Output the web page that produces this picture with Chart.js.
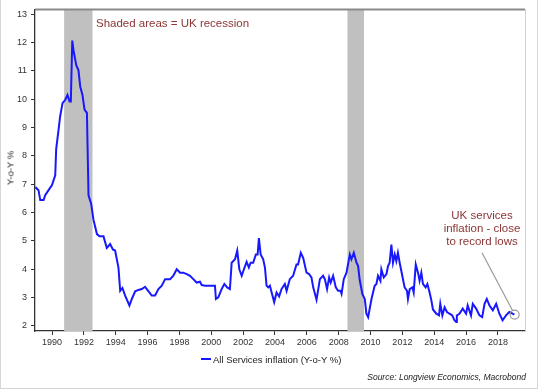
<!DOCTYPE html>
<html>
<head>
<meta charset="utf-8">
<script src="https://cdn.jsdelivr.net/npm/chart.js@4.4.0/dist/chart.umd.min.js"></script>
<style>
  body { margin: 0; background: #fff; font-family: "Liberation Sans", Arial, sans-serif; }
  #wrap { position: relative; width: 540px; height: 391px; overflow: hidden; }
  #frame { position: absolute; left: 0; top: -2px; width: 536px; height: 389px; border: 1px solid #d6d6d6; }
  #myChart { position: absolute; left: 0; top: 0; }
  .note { position: absolute; color: #8c3535; font-size: 11.5px; white-space: nowrap; }
  #shaded { left: 96px; top: 17px; }
  #callout { left: 432px; top: 209px; width: 100px; text-align: center; line-height: 13px; }
  #ytitle { position: absolute; left: 10px; top: 168px; font-size: 9.5px; color: #222; transform: translate(-50%, -50%) rotate(-90deg); white-space: nowrap; }
  #legend { position: absolute; left: 201px; top: 354px; font-size: 9.5px; color: #222; white-space: nowrap; }
  #legend span.swatch { display: inline-block; width: 10px; height: 2px; background: #1515ff; vertical-align: middle; margin-right: 2px; position: relative; top: -1px; }
  #source { position: absolute; right: 14px; top: 372px; font-size: 8.5px; font-style: italic; color: #222; white-space: nowrap; }
</style>
</head>
<body>
<div id="wrap">
  <div id="frame"></div>
  <canvas id="myChart" width="540" height="391"></canvas>
  <div class="note" id="shaded">Shaded areas = UK recession</div>
  <div class="note" id="callout">UK services<br>inflation - close<br>to record lows</div>
  <div id="ytitle">Y-o-Y %</div>
  <div id="legend"><span class="swatch"></span>All Services inflation (Y-o-Y %)</div>
  <div id="source">Source: Longview Economics, Macrobond</div>
</div>
<script>
// fechas en años decimales y valores (Y-o-Y %)
const fechas = [
  1988.95, 1989.15, 1989.26, 1989.47, 1989.57, 1989.78, 1989.99, 1990.20, 1990.26, 1990.41,
  1990.51, 1990.66, 1990.83, 1990.97, 1991.10, 1991.18, 1991.27, 1991.35, 1991.52, 1991.66,
  1991.77, 1991.91, 1992.04, 1992.19, 1992.29, 1992.46, 1992.60, 1992.82, 1992.98, 1993.23,
  1993.44, 1993.65, 1993.82, 1993.96, 1994.17, 1994.28, 1994.42, 1994.59, 1994.86, 1995.01,
  1995.22, 1995.42, 1995.64, 1995.84, 1996.11, 1996.26, 1996.47, 1996.68, 1996.89, 1997.10,
  1997.41, 1997.62, 1997.83, 1998.04, 1998.24, 1998.46, 1998.66, 1998.87, 1999.08, 1999.29,
  1999.40, 1999.61, 2000.23, 2000.29, 2000.44, 2000.65, 2000.82, 2001.00, 2001.17, 2001.28,
  2001.49, 2001.63, 2001.76, 2001.91, 2002.05, 2002.22, 2002.36, 2002.47, 2002.63, 2002.80,
  2002.91, 2002.99, 2003.10, 2003.26, 2003.37, 2003.47, 2003.57, 2003.68, 2003.79, 2003.95,
  2004.10, 2004.26, 2004.41, 2004.62, 2004.73, 2004.93, 2005.14, 2005.35, 2005.45, 2005.62,
  2005.77, 2005.98, 2006.14, 2006.29, 2006.40, 2006.61, 2006.82, 2007.02, 2007.13, 2007.27,
  2007.40, 2007.50, 2007.65, 2007.82, 2007.96, 2008.11, 2008.18, 2008.32, 2008.49, 2008.70,
  2008.80, 2008.95, 2009.12, 2009.22, 2009.32, 2009.49, 2009.64, 2009.74, 2009.85, 2010.06,
  2010.26, 2010.37, 2010.47, 2010.62, 2010.68, 2010.83, 2011.00, 2011.10, 2011.20, 2011.31,
  2011.41, 2011.52, 2011.62, 2011.72, 2011.83, 2012.00, 2012.14, 2012.29, 2012.35, 2012.46,
  2012.63, 2012.71, 2012.84, 2012.98, 2013.08, 2013.19, 2013.29, 2013.46, 2013.57, 2013.71,
  2013.82, 2013.92, 2014.13, 2014.30, 2014.38, 2014.51, 2014.65, 2014.80, 2014.96, 2015.13,
  2015.27, 2015.38, 2015.42, 2015.58, 2015.79, 2016.00, 2016.10, 2016.31, 2016.42, 2016.63,
  2016.84, 2017.01, 2017.16, 2017.30, 2017.47, 2017.68, 2017.89, 2018.09, 2018.29, 2018.51,
  2018.71, 2018.92, 2019.03
];
const inflacion = [
  6.90, 6.79, 6.44, 6.44, 6.61, 6.79, 6.96, 7.31, 8.24, 8.93,
  9.40, 9.86, 9.98, 10.15, 9.92, 9.92, 12.07, 11.72, 11.20, 11.02,
  10.45, 10.15, 9.63, 9.52, 6.61, 6.30, 5.75, 5.24, 5.16, 5.16,
  4.75, 4.89, 4.70, 4.66, 4.06, 3.24, 3.34, 3.07, 2.72, 2.95,
  3.22, 3.27, 3.30, 3.38, 3.18, 3.07, 3.07, 3.30, 3.42, 3.65,
  3.65, 3.77, 4.00, 3.88, 3.88, 3.83, 3.77, 3.65, 3.53, 3.56,
  3.44, 3.42, 3.42, 2.95, 3.01, 3.30, 3.48, 3.36, 3.30, 4.23,
  4.35, 4.66, 4.00, 3.77, 4.00, 4.26, 4.06, 4.23, 4.23, 4.52,
  4.52, 5.10, 4.52, 4.35, 4.06, 3.42, 3.36, 3.42, 3.18, 2.84,
  3.18, 3.04, 3.30, 3.48, 3.24, 3.65, 3.77, 4.17, 4.17, 4.58,
  4.40, 3.88, 3.83, 3.71, 3.36, 2.92, 3.65, 3.77, 3.65, 3.30,
  3.71, 3.53, 3.77, 3.36, 3.24, 3.24, 3.13, 3.65, 3.88, 4.52,
  4.35, 4.58, 4.23, 4.11, 3.62, 3.12, 2.95, 2.43, 2.31, 2.95,
  3.42, 3.48, 3.77, 3.59, 4.00, 3.71, 3.83, 4.11, 4.23, 4.87,
  4.23, 4.52, 4.29, 4.58, 4.23, 3.75, 3.36, 3.24, 2.95, 3.30,
  3.36, 3.18, 4.17, 3.88, 3.59, 3.88, 3.48, 3.36, 3.48, 3.18,
  2.90, 2.58, 2.43, 2.37, 2.78, 2.37, 2.66, 2.49, 2.43, 2.37,
  2.20, 2.14, 2.37, 2.43, 2.61, 2.43, 2.72, 2.37, 2.78, 2.61,
  2.37, 2.31, 2.78, 2.95, 2.72, 2.55, 2.78, 2.43, 2.20, 2.37,
  2.49, 2.43, 2.40
];
const recesiones = [[1990.76, 1992.54], [2008.55, 2009.59]];
const ticksX = [1990, 1992, 1994, 1996, 1998, 2000, 2002, 2004, 2006, 2008, 2010, 2012, 2014, 2016, 2018];
const ticksY = [2, 3, 4, 5, 6, 7, 8, 9, 10, 11, 12, 13];

const fuente = { family: '"Liberation Sans", Arial, sans-serif', size: 9 };

// sombreado de recesiones
const sombreado = {
  id: 'sombreado',
  beforeDatasetsDraw(chart) {
    const { ctx, chartArea, scales } = chart;
    ctx.save();
    ctx.fillStyle = '#c0c0c0';
    recesiones.forEach(r => {
      const x1 = scales.x.getPixelForValue(r[0]);
      const x2 = scales.x.getPixelForValue(r[1]);
      ctx.fillRect(x1, chartArea.top, x2 - x1, chartArea.bottom - chartArea.top);
    });
    ctx.restore();
  },
  afterDraw(chart) {
    const { ctx, chartArea, scales } = chart;
    ctx.save();
    // borde superior y derecho
    ctx.strokeStyle = '#8a8a8a';
    ctx.lineWidth = 2;
    ctx.beginPath();
    ctx.moveTo(chartArea.left, chartArea.top);
    ctx.lineTo(chartArea.right, chartArea.top);
    ctx.stroke();
    ctx.strokeStyle = '#cfcfcf';
    ctx.lineWidth = 1;
    ctx.beginPath();
    ctx.moveTo(chartArea.right + 0.5, chartArea.top);
    ctx.lineTo(chartArea.right + 0.5, chartArea.bottom);
    ctx.stroke();
    // circulo y linea de la nota
    const cx = scales.x.getPixelForValue(2019.05);
    const cy = scales.y.getPixelForValue(2.4);
    const lx = scales.x.getPixelForValue(2017.0);
    const ly = scales.y.getPixelForValue(4.58);
    const ang = Math.atan2(cy - ly, cx - lx);
    ctx.strokeStyle = '#9a9a9a';
    ctx.lineWidth = 1.2;
    ctx.beginPath();
    ctx.arc(cx, cy, 4.5, 0, Math.PI * 2);
    ctx.stroke();
    ctx.beginPath();
    ctx.moveTo(lx, ly);
    ctx.lineTo(cx - 4.5 * Math.cos(ang), cy - 4.5 * Math.sin(ang));
    ctx.stroke();
    ctx.restore();
  }
};

const ctx = document.getElementById('myChart');
new Chart(ctx, {
  type: 'line',
  data: {
    datasets: [{
      label: 'All Services inflation (Y-o-Y %)',
      data: fechas.map((f, i) => ({ x: f, y: inflacion[i] })),
      borderColor: '#1818ff',
      borderWidth: 2,
      pointRadius: 0,
      tension: 0,
      fill: false
    }]
  },
  options: {
    responsive: false,
    animation: false,
    devicePixelRatio: 1,
    layout: { padding: { left: 0, top: 5, right: 15, bottom: 0 } },
    plugins: { legend: { display: false }, tooltip: { enabled: false } },
    scales: {
      x: {
        type: 'linear',
        min: 1988.93,
        max: 2019.7,
        afterBuildTicks: s => { s.ticks = ticksX.map(v => ({ value: v })); },
        afterFit: s => { s.height = 60; },
        grid: { drawOnChartArea: false, tickLength: 4, color: '#333' },
        border: { color: '#333', width: 1.3 },
        ticks: { autoSkip: false, maxRotation: 0, font: fuente, color: '#333', padding: 2, callback: v => String(v) }
      },
      y: {
        min: 1.82,
        max: 13.17,
        afterBuildTicks: s => { s.ticks = ticksY.map(v => ({ value: v })); },
        afterFit: s => { s.width = 35; },
        grid: { drawOnChartArea: false, tickLength: 4, color: '#333' },
        border: { color: '#333', width: 1.3 },
        ticks: { autoSkip: false, font: fuente, color: '#333', padding: 4, callback: v => String(v) }
      }
    }
  },
  plugins: [sombreado]
});
</script>
</body>
</html>
